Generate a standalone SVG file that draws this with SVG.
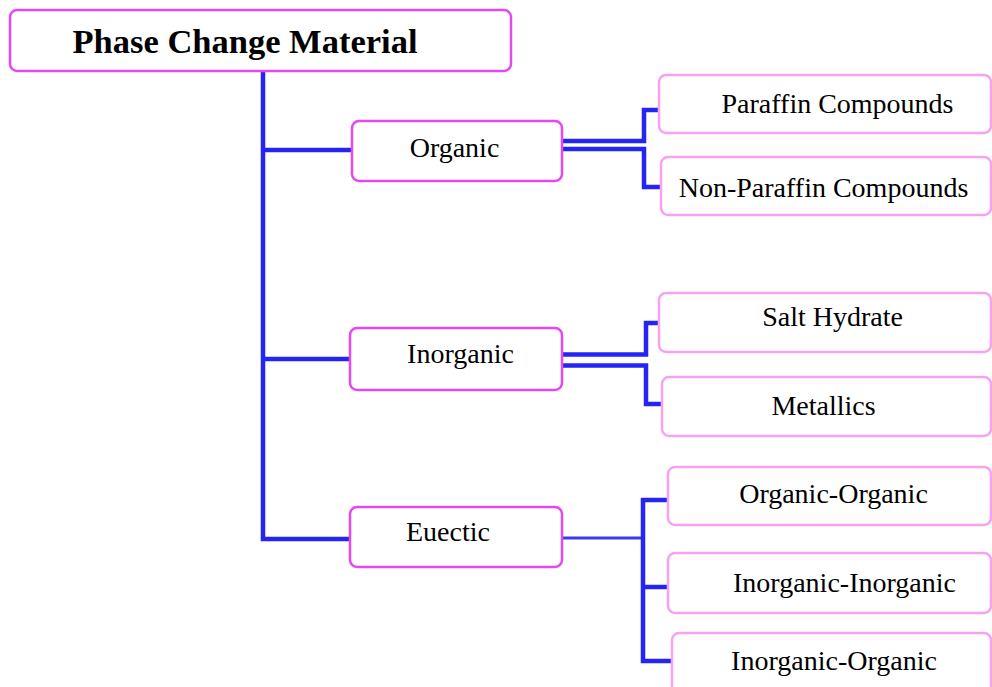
<svg xmlns="http://www.w3.org/2000/svg" width="992" height="687" viewBox="0 0 992 687">
<style>
.bg{fill:#ffffff}
.nl{fill:#ffffff;stroke:#e648f0;stroke-width:2.5}
.nr{fill:#ffffff;stroke:#f7a2f0;stroke-width:2.5}
.t{font-family:"Liberation Serif","Times New Roman",serif;font-size:28px;fill:#000;text-anchor:middle}
.tb{font-family:"Liberation Serif","Times New Roman",serif;font-size:34.5px;font-weight:bold;fill:#000;text-anchor:middle}
.c{fill:none;stroke:#2424f5;stroke-width:4.5}
.c2{fill:none;stroke:#3a3af0;stroke-width:3}
</style>
<rect class="bg" x="0" y="0" width="992" height="687"/>
<g id="connectors">
<polyline class="c" points="263,71 263,539 350,539"/>
<line class="c" x1="263" y1="150" x2="352" y2="150"/>
<line class="c" x1="263" y1="359" x2="350" y2="359"/>
<polyline class="c" points="562,141 644,141 644,110 659,110"/>
<polyline class="c" points="562,149 644,149 644,187 661,187"/>
<polyline class="c" points="562,354.5 646,354.5 646,323 659,323"/>
<polyline class="c" points="562,365.5 646,365.5 646,404 662,404"/>
<line class="c2" x1="558" y1="538" x2="643" y2="538"/>
<polyline class="c" points="667,500 643,500 643,661 672,661"/>
<line class="c" x1="643" y1="587" x2="669" y2="587"/>
</g>
<g id="root">
<rect class="nl" x="10" y="10" width="501" height="61" rx="7"/>
<text class="tb" x="245" y="53">Phase Change Material</text>
</g>
<g id="organic">
<rect class="nl" x="352" y="121" width="210" height="60" rx="7"/>
<text class="t" x="454.5" y="157">Organic</text>
</g>
<g id="inorganic">
<rect class="nl" x="350" y="328" width="212" height="62" rx="7"/>
<text class="t" x="460.5" y="363">Inorganic</text>
</g>
<g id="euectic">
<rect class="nl" x="350" y="507" width="212" height="60" rx="7"/>
<text class="t" x="448" y="541">Euectic</text>
</g>
<g id="paraffin">
<rect class="nr" x="659" y="75" width="332" height="58" rx="7"/>
<text class="t" x="837.5" y="113">Paraffin Compounds</text>
</g>
<g id="nonparaffin">
<rect class="nr" x="661" y="157" width="330" height="58" rx="7"/>
<text class="t" x="823.5" y="197">Non-Paraffin Compounds</text>
</g>
<g id="salthydrate">
<rect class="nr" x="659" y="293" width="332" height="59" rx="7"/>
<text class="t" x="832.5" y="326">Salt Hydrate</text>
</g>
<g id="metallics">
<rect class="nr" x="662" y="377" width="329" height="59" rx="7"/>
<text class="t" x="823.5" y="415">Metallics</text>
</g>
<g id="organic-organic">
<rect class="nr" x="668" y="467" width="323" height="58" rx="7"/>
<text class="t" x="833.5" y="503">Organic-Organic</text>
</g>
<g id="inorganic-inorganic">
<rect class="nr" x="668" y="553" width="323" height="60" rx="7"/>
<text class="t" x="844.5" y="592">Inorganic-Inorganic</text>
</g>
<g id="inorganic-organic">
<rect class="nr" x="672" y="633" width="319" height="70" rx="7"/>
<text class="t" x="834" y="670">Inorganic-Organic</text>
</g>
</svg>
